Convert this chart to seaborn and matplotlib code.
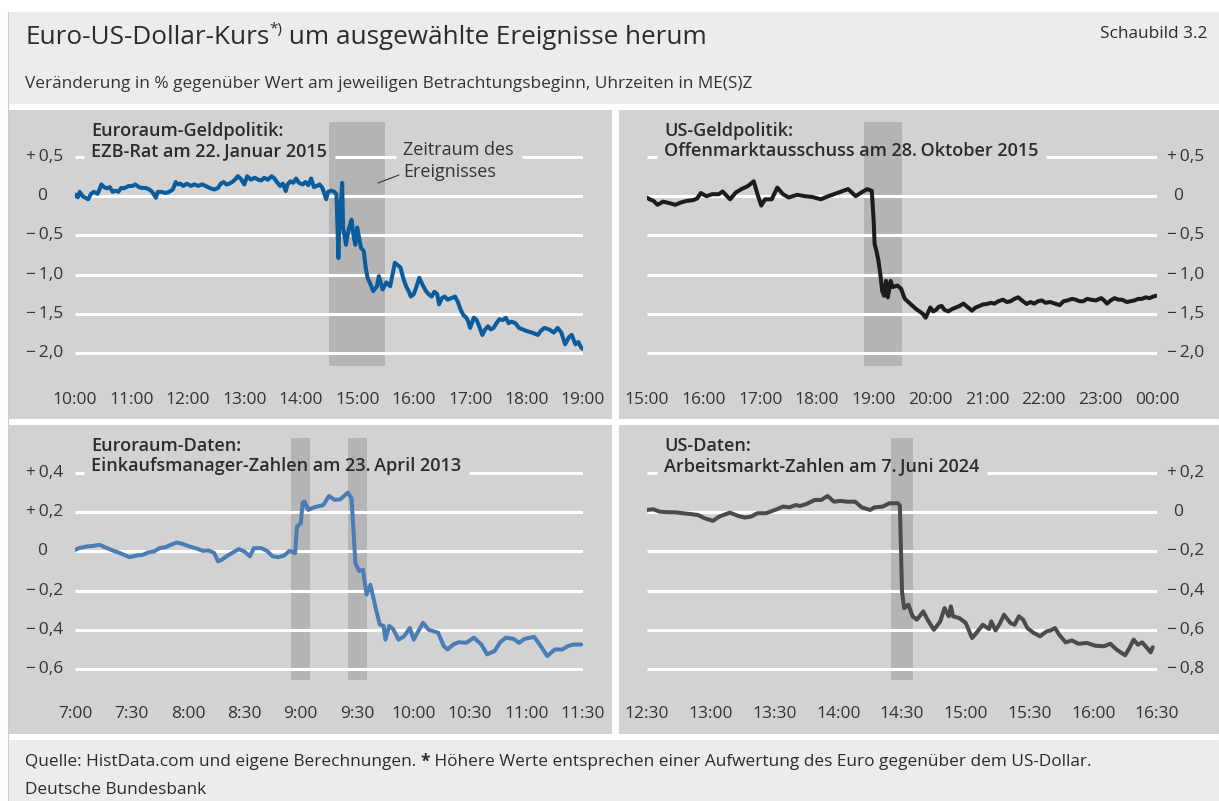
import matplotlib
matplotlib.use("Agg")
import matplotlib.pyplot as plt
import matplotlib.transforms as mtransforms
from matplotlib.patches import Rectangle
from matplotlib.lines import Line2D
import seaborn as sns
import pandas as pd

# =========================
# Daten
# =========================
ezb_time = ["10:00", "10:01", "10:03", "10:05", "10:08", "10:11", "10:14", "10:17", "10:20", "10:24",
            "10:26", "10:28", "10:31", "10:34", "10:37", "10:40", "10:43", "10:46", "10:49", "10:52",
            "10:57", "11:01", "11:04", "11:08", "11:11", "11:15", "11:19", "11:22", "11:26", "11:28",
            "11:32", "11:36", "11:40", "11:44", "11:47", "11:49", "11:52", "11:55", "11:59", "12:03",
            "12:07", "12:11", "12:15", "12:19", "12:23", "12:28", "12:32", "12:35", "12:38", "12:41",
            "12:44", "12:47", "12:50", "12:53", "12:56", "13:00", "13:03", "13:07", "13:11", "13:15",
            "13:18", "13:21", "13:25", "13:29", "13:32", "13:34", "13:38", "13:41", "13:44", "13:46",
            "13:49", "13:52", "13:55", "13:58", "14:02", "14:05", "14:08", "14:11", "14:14", "14:17",
            "14:20", "14:23", "14:27", "14:29", "14:32", "14:36", "14:38", "14:40", "14:41", "14:44",
            "14:45", "14:48", "14:51", "14:54", "14:56", "14:58", "15:00", "15:04", "15:07", "15:09",
            "15:11", "15:15", "15:17", "15:21", "15:23", "15:27", "15:31", "15:35", "15:40", "15:43",
            "15:46", "15:49", "15:52", "15:55", "15:57", "16:00", "16:02", "16:06", "16:09", "16:13",
            "16:16", "16:19", "16:22", "16:25", "16:27", "16:30", "16:33", "16:36", "16:40", "16:44",
            "16:47", "16:50", "16:53", "16:56", "16:58", "17:00", "17:04", "17:07", "17:09", "17:13",
            "17:16", "17:19", "17:22", "17:25", "17:28", "17:31", "17:35", "17:38", "17:41", "17:44",
            "17:48", "17:52", "17:56", "18:00", "18:06", "18:12", "18:15", "18:19", "18:24", "18:29",
            "18:33", "18:37", "18:41", "18:45", "18:48", "18:52", "18:55", "18:58", "19:00"]
ezb_val = [0.00, 0.02, -0.013, 0.055, 0.00, -0.02, -0.04, 0.03, 0.055, 0.03,
           0.085, 0.15, 0.115, 0.10, 0.115, 0.055, 0.07, 0.055, 0.105, 0.10,
           0.13, 0.13, 0.15, 0.115, 0.105, 0.105, 0.085, 0.055, -0.02, 0.055,
           0.055, 0.04, 0.055, 0.085, 0.18, 0.15, 0.16, 0.13, 0.16, 0.13,
           0.15, 0.13, 0.15, 0.13, 0.105, 0.085, 0.105, 0.16, 0.18, 0.15,
           0.16, 0.18, 0.21, 0.255, 0.225, 0.15, 0.255, 0.21, 0.235, 0.21,
           0.20, 0.235, 0.21, 0.255, 0.225, 0.19, 0.13, 0.16, 0.065, 0.15,
           0.19, 0.17, 0.225, 0.17, 0.15, 0.18, 0.14, 0.225, 0.115, 0.13,
           0.15, 0.105, -0.04, 0.055, 0.07, 0.055, 0.02, -0.79, -0.35, 0.17,
           -0.40, -0.62, -0.42, -0.30, -0.50, -0.62, -0.40, -0.66, -0.70, -0.91,
           -1.04, -1.15, -1.21, -1.15, -1.02, -1.19, -1.10, -1.15, -0.85, -0.88,
           -0.91, -1.05, -1.15, -1.22, -1.28, -1.25, -1.19, -1.04, -1.12, -1.21,
           -1.25, -1.28, -1.22, -1.25, -1.38, -1.30, -1.28, -1.32, -1.30, -1.28,
           -1.35, -1.45, -1.52, -1.55, -1.60, -1.68, -1.55, -1.58, -1.64, -1.77,
           -1.70, -1.66, -1.70, -1.68, -1.62, -1.57, -1.58, -1.55, -1.62, -1.60,
           -1.62, -1.68, -1.70, -1.72, -1.74, -1.77, -1.72, -1.68, -1.70, -1.74,
           -1.68, -1.74, -1.89, -1.80, -1.77, -1.89, -1.86, -1.93, -1.95]

fomc_time = ["15:00", "15:03", "15:07", "15:11", "15:17", "15:24", "15:30", "15:36", "15:42", "15:49",
             "15:53", "15:57", "16:03", "16:09", "16:16", "16:20", "16:28", "16:34", "16:40", "16:47",
             "16:53", "16:57", "17:01", "17:05", "17:12", "17:18", "17:24", "17:30", "17:39", "17:47",
             "17:55", "18:04", "18:12", "18:20", "18:26", "18:33", "18:41", "18:47", "18:53", "18:58",
             "19:00", "19:01", "19:03", "19:05", "19:07", "19:09", "19:11", "19:13", "19:15", "19:18",
             "19:20", "19:25", "19:29", "19:33", "19:39", "19:45", "19:52", "19:55", "19:57", "20:00",
             "20:03", "20:06", "20:09", "20:12", "20:15", "20:19", "20:23", "20:27", "20:31", "20:35",
             "20:39", "20:44", "20:48", "20:52", "20:56", "21:00", "21:04", "21:08", "21:12", "21:17",
             "21:21", "21:25", "21:29", "21:33", "21:37", "21:42", "21:46", "21:50", "21:54", "21:58",
             "22:02", "22:07", "22:12", "22:17", "22:21", "22:25", "22:30", "22:34", "22:38", "22:42",
             "22:46", "22:50", "22:55", "23:01", "23:04", "23:07", "23:11", "23:15", "23:19", "23:23",
             "23:28", "23:32", "23:36", "23:40", "23:44", "23:48", "23:52", "23:56", "23:59"]
fomc_val = [-0.02, -0.04, -0.06, -0.11, -0.07, -0.09, -0.11, -0.08, -0.06, -0.05,
            -0.03, 0.04, 0.00, 0.025, 0.025, 0.06, -0.04, 0.047, 0.09, 0.13,
            0.19, 0.025, -0.12, -0.04, -0.04, 0.11, 0.025, -0.017, 0.017, 0.00,
            -0.01, -0.04, 0.00, 0.034, 0.06, 0.09, 0.00, 0.047, 0.09, 0.068,
            -0.31, -0.61, -0.70, -0.82, -0.99, -1.21, -1.27, -1.08, -1.29, -1.08,
            -1.16, -1.14, -1.18, -1.31, -1.375, -1.44, -1.50, -1.55, -1.50, -1.42,
            -1.47, -1.45, -1.41, -1.40, -1.45, -1.47, -1.44, -1.42, -1.40, -1.37,
            -1.41, -1.46, -1.42, -1.40, -1.38, -1.375, -1.36, -1.37, -1.34, -1.32,
            -1.35, -1.34, -1.31, -1.29, -1.33, -1.375, -1.35, -1.37, -1.34, -1.33,
            -1.36, -1.35, -1.37, -1.39, -1.34, -1.33, -1.31, -1.32, -1.34, -1.34,
            -1.31, -1.32, -1.33, -1.30, -1.33, -1.37, -1.33, -1.30, -1.32, -1.32,
            -1.35, -1.34, -1.33, -1.31, -1.31, -1.29, -1.30, -1.28, -1.27]

pmi_time = ["7:00", "7:02", "7:06", "7:10", "7:13", "7:17", "7:20", "7:23", "7:26", "7:29",
            "7:32", "7:36", "7:39", "7:42", "7:45", "7:48", "7:51", "7:54", "7:57", "8:01",
            "8:04", "8:08", "8:11", "8:14", "8:16", "8:18", "8:21", "8:24", "8:27", "8:30",
            "8:33", "8:35", "8:39", "8:42", "8:45", "8:48", "8:51", "8:54", "8:57", "8:58",
            "9:00", "9:01", "9:02", "9:04", "9:07", "9:12", "9:15", "9:18", "9:21", "9:23",
            "9:25", "9:27", "9:28", "9:29", "9:31", "9:33", "9:35", "9:37", "9:40", "9:42",
            "9:44", "9:45", "9:47", "9:49", "9:52", "9:55", "9:58", "10:00", "10:03", "10:05",
            "10:08", "10:13", "10:16", "10:18", "10:21", "10:24", "10:28", "10:32", "10:36", "10:39",
            "10:43", "10:46", "10:49", "10:53", "10:56", "10:59", "11:04", "11:07", "11:11", "11:15",
            "11:19", "11:22", "11:25", "11:29"]
pmi_val = [0.008, 0.017, 0.025, 0.029, 0.034, 0.017, 0.005, -0.005, -0.017, -0.029,
           -0.022, -0.017, -0.005, 0.00, 0.017, 0.022, 0.034, 0.046, 0.039, 0.025,
           0.017, 0.003, 0.005, -0.008, -0.05, -0.042, -0.022, -0.005, 0.012, 0.00,
           -0.025, 0.017, 0.017, 0.003, -0.025, -0.029, -0.022, 0.003, -0.008, 0.127,
           0.144, 0.249, 0.254, 0.212, 0.225, 0.237, 0.283, 0.263, 0.266, 0.283,
           0.30, 0.271, 0.11, -0.059, -0.10, -0.093, -0.22, -0.17, -0.297, -0.373,
           -0.38, -0.45, -0.38, -0.395, -0.45, -0.432, -0.39, -0.45, -0.398, -0.364,
           -0.40, -0.415, -0.483, -0.50, -0.475, -0.463, -0.466, -0.44, -0.475, -0.525,
           -0.508, -0.463, -0.44, -0.446, -0.466, -0.446, -0.436, -0.475, -0.534, -0.50,
           -0.50, -0.483, -0.475, -0.475]

nfp_time = ["12:30", "12:33", "12:36", "12:40", "12:43", "12:47", "12:51", "12:54", "12:57", "13:01",
            "13:04", "13:09", "13:13", "13:16", "13:19", "13:22", "13:26", "13:28", "13:31", "13:34",
            "13:37", "13:40", "13:42", "13:45", "13:49", "13:52", "13:55", "13:58", "14:01", "14:04",
            "14:08", "14:11", "14:15", "14:17", "14:21", "14:24", "14:28", "14:29", "14:30", "14:31",
            "14:33", "14:35", "14:37", "14:40", "14:42", "14:45", "14:48", "14:50", "14:52", "14:53",
            "14:54", "14:57", "15:00", "15:03", "15:05", "15:08", "15:11", "15:12", "15:14", "15:16",
            "15:18", "15:21", "15:23", "15:25", "15:27", "15:29", "15:32", "15:35", "15:38", "15:40",
            "15:42", "15:44", "15:47", "15:50", "15:53", "15:57", "16:01", "16:05", "16:08", "16:11",
            "16:15", "16:17", "16:19", "16:21", "16:23", "16:26", "16:27", "16:28"]
nfp_val = [0.012, 0.015, 0.003, 0.00, 0.00, -0.005, -0.01, -0.014, -0.03, -0.044,
           -0.022, -0.002, -0.019, -0.027, -0.022, -0.005, -0.005, 0.003, 0.015, 0.029,
           0.025, 0.037, 0.032, 0.042, 0.063, 0.063, 0.083, 0.054, 0.058, 0.054,
           0.054, 0.025, 0.012, 0.025, 0.029, 0.046, 0.046, 0.035, -0.404, -0.489,
           -0.472, -0.531, -0.548, -0.506, -0.548, -0.60, -0.557, -0.489, -0.531, -0.48,
           -0.531, -0.54, -0.565, -0.642, -0.616, -0.574, -0.596, -0.557, -0.603, -0.569,
           -0.523, -0.565, -0.574, -0.531, -0.548, -0.591, -0.616, -0.633, -0.608, -0.603,
           -0.591, -0.625, -0.664, -0.654, -0.671, -0.667, -0.681, -0.684, -0.671, -0.701,
           -0.73, -0.693, -0.65, -0.676, -0.664, -0.701, -0.715, -0.689]

ezb_xticks = ["10:00", "11:00", "12:00", "13:00", "14:00", "15:00", "16:00", "17:00", "18:00", "19:00"]
fomc_xticks = ["15:00", "16:00", "17:00", "18:00", "19:00", "20:00", "21:00", "22:00", "23:00", "00:00"]
pmi_xticks = ["7:00", "7:30", "8:00", "8:30", "9:00", "9:30", "10:00", "10:30", "11:00", "11:30"]
nfp_xticks = ["12:30", "13:00", "13:30", "14:00", "14:30", "15:00", "15:30", "16:00", "16:30"]

top_yticks = [0.5, 0.0, -0.5, -1.0, -1.5, -2.0]
top_ylabels = ["+\u20090,5", "0", "\u2212\u20090,5", "\u2212\u20091,0", "\u2212\u20091,5", "\u2212\u20092,0"]
pmi_yticks = [0.4, 0.2, 0.0, -0.2, -0.4, -0.6]
pmi_ylabels = ["+\u20090,4", "+\u20090,2", "0", "\u2212\u20090,2", "\u2212\u20090,4", "\u2212\u20090,6"]
nfp_yticks = [0.2, 0.0, -0.2, -0.4, -0.6, -0.8]
nfp_ylabels = ["+\u20090,2", "0", "\u2212\u20090,2", "\u2212\u20090,4", "\u2212\u20090,6", "\u2212\u20090,8"]

ezb_shades = [("14:30", "15:30")]
fomc_shades = [("18:50", "19:30")]
pmi_shades = [("8:55", "9:05"), ("9:25", "9:35")]
nfp_shades = [("14:25", "14:35")]

# =========================
# Helfer
# =========================
W, H = 1219, 801
PANEL = "#d2d2d2"
LIGHT = "#ececec"
SHADE = "#b4b4b4"
TXT = "#2b2b2b"


def fx(x):
    return x / W


def fy(y):
    return 1 - y / H


def to_min(t):
    h, m = t.split(":")
    return int(h) * 60 + int(m)


def tick_pos(labels):
    pos = []
    for lab in labels:
        v = to_min(lab)
        if pos and v < pos[0]:
            v += 24 * 60
        pos.append(v)
    return pos


sns.set_theme(style="white")
plt.rcParams["font.family"] = ["Open Sans", "DejaVu Sans"]

fig = plt.figure(figsize=(W / 100, H / 100), dpi=100, facecolor="white")


def box(x0, y0, x1, y1, fc, ec="none"):
    fig.patches.append(Rectangle((fx(x0), fy(y1)), (x1 - x0) / W, (y1 - y0) / H,
                                 transform=fig.transFigure, facecolor=fc, edgecolor=ec,
                                 lw=0.8, zorder=-10))


box(8, 12, 1219, 801, "white", "#cccccc")
box(8.5, 12.5, 1219, 104, LIGHT)
box(8.5, 740, 1219, 801, LIGHT)

# =========================
# Kopf und Fuß
# =========================
r = fig.canvas.get_renderer()


def text_row(x, y, parts, size):
    # parts: (text, extra kwargs, dy in px)
    for s, extra, dy in parts:
        kw = {"fontsize": size, "color": TXT}
        kw.update(extra)
        t = fig.text(fx(x), fy(y + dy), s, va="center", ha="left", **kw)
        x = t.get_window_extent(r).x1


text_row(25, 38, [("Euro-US-Dollar-Kurs", {}, 0),
                  ("*)", {"fontsize": 11}, -8),
                  (" um ausgewählte Ereignisse herum", {}, 0)], 18.8)
fig.text(fx(1207), fy(34), "Schaubild 3.2", ha="right", va="center", fontsize=12.4, color=TXT)
fig.text(fx(25), fy(84), "Veränderung in % gegenüber Wert am jeweiligen Betrachtungsbeginn, Uhrzeiten in ME(S)Z",
         ha="left", va="center", fontsize=12.4, color="#333333")
text_row(25, 762, [("Quelle: HistData.com und eigene Berechnungen. ", {}, 0),
                   ("*", {"fontweight": "bold"}, 0),
                   (" Höhere Werte entsprechen einer Aufwertung des Euro gegenüber dem US-Dollar.", {}, 0)],
         12.4)
fig.text(fx(25), fy(790), "Deutsche Bundesbank", ha="left", va="center", fontsize=12.4, color=TXT)

# =========================
# Panels
# =========================
panels = [
    dict(times=ezb_time, vals=ezb_val, xt=ezb_xticks, yt=top_yticks, yl=top_ylabels, sh=ezb_shades,
         color="#0a5c9c", bg=(8.5, 110, 612, 419), ax=(75, 122, 583, 366), ylim=(-2.166, 0.946),
         side="left", title="Euroraum-Geldpolitik:\nEZB-Rat am 22.\u2009Januar 2015", tpos=(91, 141)),
    dict(times=fomc_time, vals=fomc_val, xt=fomc_xticks, yt=top_yticks, yl=top_ylabels, sh=fomc_shades,
         color="#1e1b1b", bg=(619, 110, 1219, 419), ax=(647, 122, 1157, 366), ylim=(-2.166, 0.946),
         side="right", title="US-Geldpolitik:\nOffenmarktausschuss am 28.\u2009Oktober 2015", tpos=(664, 141)),
    dict(times=pmi_time, vals=pmi_val, xt=pmi_xticks, yt=pmi_yticks, yl=pmi_ylabels, sh=pmi_shades,
         color="#4a7db5", bg=(8.5, 425, 612, 734), ax=(75, 438, 583, 680), ylim=(-0.656, 0.579),
         side="left", title="Euroraum-Daten:\nEinkaufsmanager-Zahlen am 23.\u2009April 2013", tpos=(91, 456)),
    dict(times=nfp_time, vals=nfp_val, xt=nfp_xticks, yt=nfp_yticks, yl=nfp_ylabels, sh=nfp_shades,
         color="#4b4b4b", bg=(619, 425, 1219, 734), ax=(647, 438, 1157, 680), ylim=(-0.856, 0.379),
         side="right", title="US-Daten:\nArbeitsmarkt-Zahlen am 7.\u2009Juni 2024", tpos=(664, 456)),
]

for p in panels:
    box(*p["bg"], PANEL)
    x0, y0, x1, y1 = p["ax"]
    ax = fig.add_axes([fx(x0), fy(y1), (x1 - x0) / W, (y1 - y0) / H])
    ax.set_facecolor("none")
    for s in ax.spines.values():
        s.set_visible(False)

    xpos = tick_pos(p["xt"])
    ax.set_xlim(xpos[0], xpos[-1])
    ax.set_ylim(*p["ylim"])

    for a, b in p["sh"]:
        ax.axvspan(to_min(a), to_min(b), color=SHADE, lw=0, zorder=1)

    df = pd.DataFrame({"min": [to_min(t) for t in p["times"]], "val": p["vals"]})
    sns.lineplot(data=df, x="min", y="val", ax=ax, color=p["color"], lw=2.9,
                 estimator=None, sort=False, zorder=4)
    ax.set_xlabel("")
    ax.set_ylabel("")

    ax.set_xticks(xpos, p["xt"])
    ax.tick_params(axis="x", direction="out", length=11, width=2.2, color="white",
                   labelcolor="#333333", labelsize=12.5, pad=8)
    ax.set_yticks([])

    # y-Beschriftung
    tr = mtransforms.blended_transform_factory(fig.transFigure, ax.transData)
    for v, lab in zip(p["yt"], p["yl"]):
        if p["side"] == "left":
            xx, ha = (47, "right") if lab == "0" else (63, "right")
        else:
            xx, ha = (1173, "left") if lab == "0" else (1167, "left")
        ax.text(fx(xx), v, lab, transform=tr, ha=ha, va="center", fontsize=12.5,
                color="#333333", clip_on=False)

    blockers = [fig.text(fx(p["tpos"][0]), fy(p["tpos"][1]), p["title"], ha="left", va="center",
                         fontsize=13, fontweight="semibold", color=TXT, linespacing=1.15)]
    if p is panels[0]:
        blockers.append(fig.text(fx(403), fy(161), "Zeitraum des\nEreignisses", ha="left",
                                 va="center", fontsize=13, color="#333333", linespacing=1.25))
        fig.lines.append(Line2D([fx(378), fx(399)], [fy(183), fy(175)], transform=fig.transFigure,
                                color="#333333", lw=0.8))
    p["axis"] = ax
    p["blockers"] = blockers

# Gitterlinien, unterbrochen hinter den Texten
for p in panels:
    ax = p["axis"]
    inv = ax.transData.inverted()
    xa, xb = ax.transAxes.transform([(0, 0), (1, 0)])[:, 0]
    for v in p["yt"]:
        yd = ax.transData.transform((0, v))[1]
        cuts = []
        for t in p["blockers"]:
            bb = t.get_window_extent(r)
            if bb.y0 - 2 <= yd <= bb.y1 + 2:
                cuts.append((bb.x0 - 7, bb.x1 + 8))
        segs, start = [], xa
        for c0, c1 in sorted(cuts):
            if c0 > start:
                segs.append((start, c0))
            start = max(start, c1)
        if start < xb:
            segs.append((start, xb))
        for a, b in segs:
            da = inv.transform((a, yd))[0]
            db = inv.transform((b, yd))[0]
            ax.plot([da, db], [v, v], color="white", lw=2.2, solid_capstyle="butt", zorder=2)

fig.savefig("out.png", dpi=100, facecolor="white")
